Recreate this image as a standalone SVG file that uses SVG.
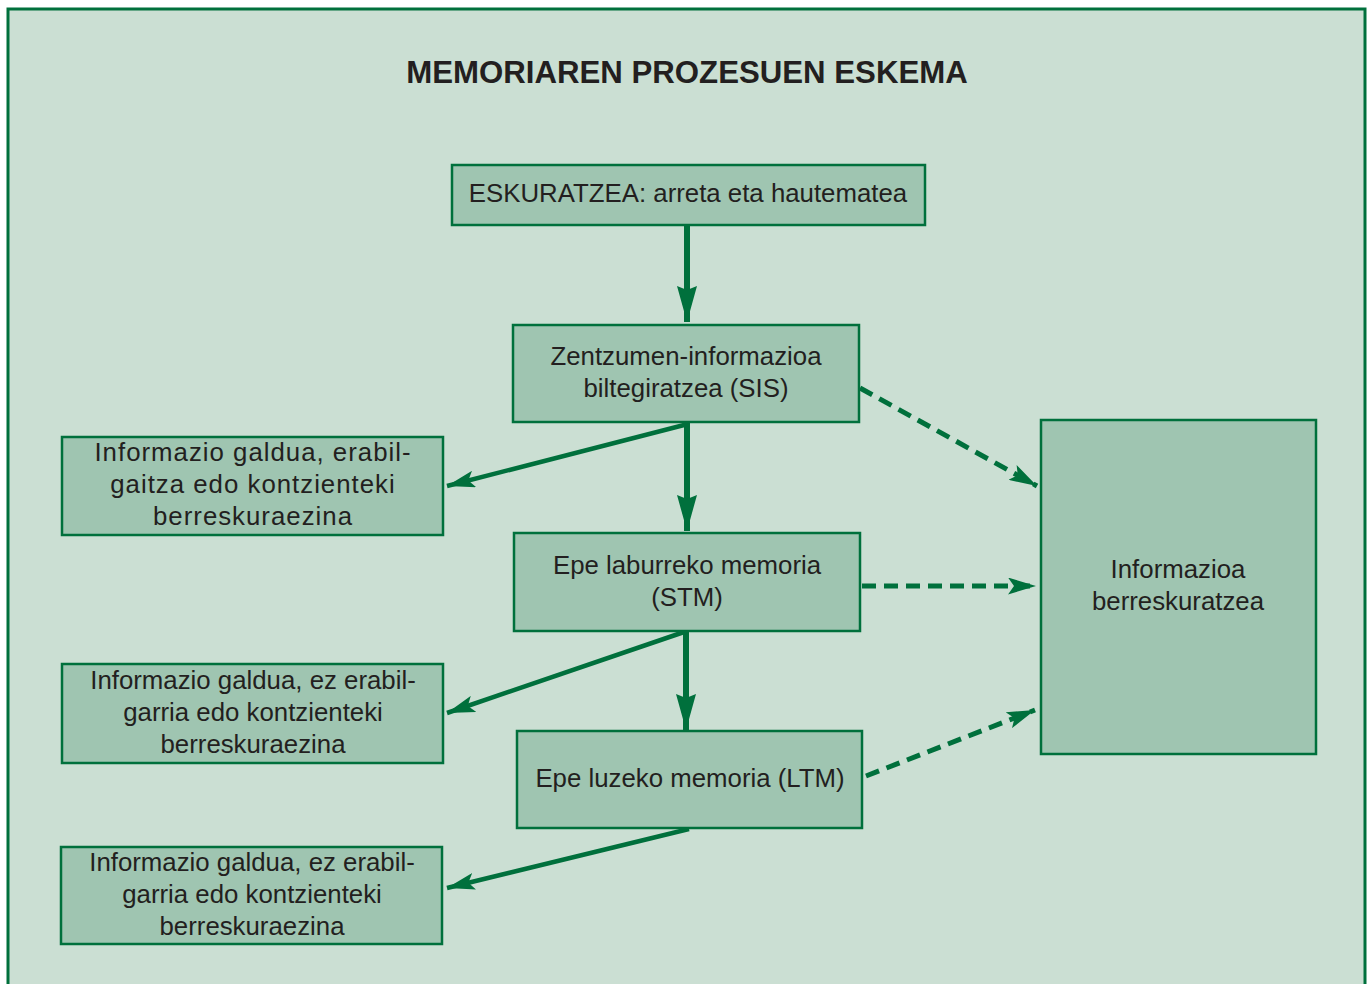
<svg xmlns="http://www.w3.org/2000/svg" width="1369" height="984" viewBox="0 0 1369 984">
<style>
.box{fill:#9FC5B1;stroke:#00703C;stroke-width:2.5}
.t{font-family:"Liberation Sans",Arial,sans-serif;font-size:25.8px;fill:#231F20;text-anchor:middle}
.sp{letter-spacing:1px}
.ttl{font-family:"Liberation Sans",Arial,sans-serif;font-size:31.2px;font-weight:bold;fill:#231F20;text-anchor:middle}
.main{stroke:#00703C;stroke-width:6;fill:none}
.diag{stroke:#00703C;stroke-width:4.5;fill:none}
.dash{stroke:#00703C;stroke-width:5;fill:none;stroke-dasharray:14 8}
</style>
<defs>
<marker id="big" markerUnits="userSpaceOnUse" viewBox="0 0 36 20" markerWidth="36" markerHeight="20" refX="36" refY="10" orient="auto">
<path d="M0,0 L36,10 L0,20 L4,10 Z" fill="#00703C"/>
</marker>
<marker id="sm" markerUnits="userSpaceOnUse" viewBox="0 0 28 17" markerWidth="28" markerHeight="17" refX="28" refY="8.5" orient="auto">
<path d="M0,0 L28,8.5 L0,17 L6,8.5 Z" fill="#00703C"/>
</marker>
</defs>
<rect x="8" y="9" width="1357" height="990" fill="#CBDFD3" stroke="#00703C" stroke-width="3"/>
<text class="ttl" x="687" y="83">MEMORIAREN PROZESUEN ESKEMA</text>
<g id="connectors">
<line class="main" x1="687" y1="226" x2="687" y2="322" marker-end="url(#big)"/>
<line class="main" x1="687" y1="422" x2="687" y2="531" marker-end="url(#big)"/>
<line class="main" x1="686" y1="631" x2="686" y2="730" marker-end="url(#big)"/>
<line class="diag" x1="688" y1="424" x2="447" y2="486" marker-end="url(#sm)"/>
<line class="diag" x1="687" y1="631" x2="447" y2="713" marker-end="url(#sm)"/>
<line class="diag" x1="689" y1="829" x2="447" y2="888" marker-end="url(#sm)"/>
<line class="dash" x1="860" y1="388" x2="1037" y2="486" marker-end="url(#sm)"/>
<line class="dash" x1="862" y1="586" x2="1036" y2="586" marker-end="url(#sm)"/>
<line class="dash" x1="866" y1="776" x2="1035" y2="710" marker-end="url(#sm)"/>
</g>
<g id="eskuratzea">
<rect class="box" x="452" y="165" width="473" height="60"/>
<text class="t" x="688" y="202">ESKURATZEA: arreta eta hautematea</text>
</g>
<g id="sis">
<rect class="box" x="513" y="325" width="346" height="97"/>
<text class="t" x="686" y="365">Zentzumen-informazioa</text>
<text class="t" x="686" y="397">biltegiratzea (SIS)</text>
</g>
<g id="galdua1">
<rect class="box" x="62" y="437" width="381" height="98"/>
<text class="t sp" x="253" y="461">Informazio galdua, erabil-</text>
<text class="t sp" x="253" y="493">gaitza edo kontzienteki</text>
<text class="t sp" x="253" y="525">berreskuraezina</text>
</g>
<g id="stm">
<rect class="box" x="514" y="533" width="346" height="98"/>
<text class="t" x="687" y="574">Epe laburreko memoria</text>
<text class="t" x="687" y="606">(STM)</text>
</g>
<g id="galdua2">
<rect class="box" x="62" y="664" width="381" height="99"/>
<text class="t" x="253" y="689">Informazio galdua, ez erabil-</text>
<text class="t" x="253" y="721">garria edo kontzienteki</text>
<text class="t" x="253" y="753">berreskuraezina</text>
</g>
<g id="ltm">
<rect class="box" x="517" y="731" width="345" height="97"/>
<text class="t" x="690" y="787">Epe luzeko memoria (LTM)</text>
</g>
<g id="galdua3">
<rect class="box" x="61" y="847" width="381" height="97"/>
<text class="t" x="252" y="871">Informazio galdua, ez erabil-</text>
<text class="t" x="252" y="903">garria edo kontzienteki</text>
<text class="t" x="252" y="935">berreskuraezina</text>
</g>
<g id="berreskuratzea">
<rect class="box" x="1041" y="420" width="275" height="334"/>
<text class="t" x="1178" y="578">Informazioa</text>
<text class="t" x="1178" y="610">berreskuratzea</text>
</g>
</svg>
